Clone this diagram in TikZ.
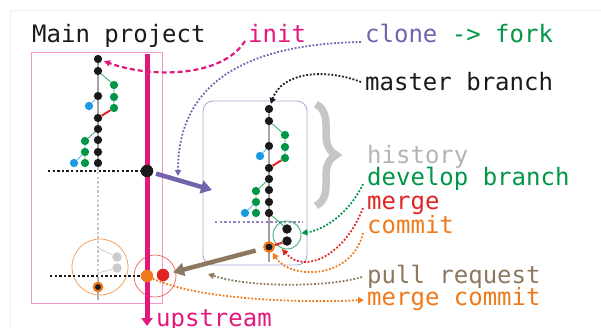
\documentclass[tikz,border=0pt]{standalone}
\usepackage{fontspec}
\newfontfamily\monof{DejaVu Sans Mono}
\usetikzlibrary{arrows.meta,decorations.pathreplacing}
\definecolor{magC}{RGB}{226,24,124}
\definecolor{pinkC}{RGB}{240,150,200}
\definecolor{purpleC}{RGB}{112,100,172}
\definecolor{greenC}{RGB}{0,150,70}
\definecolor{blueC}{RGB}{25,155,225}
\definecolor{redC}{RGB}{226,35,35}
\definecolor{orangeC}{RGB}{238,122,28}
\definecolor{brownC}{RGB}{140,120,96}
\definecolor{grayT}{RGB}{180,180,180}
\definecolor{braceC}{RGB}{198,198,198}
\definecolor{lavC}{RGB}{172,166,214}
\definecolor{blkC}{RGB}{26,26,26}
\newcommand\histtree{%
  \draw[gray!70, line width=1.2pt] (0,0) -- (0,104);
  \foreach \n/\y in {m1/0,m2/12,m3/37,m4/59,m5/70,m6/81,m7/93,m8/104}
    \node[bdot] (\n) at (0,\y) {};
  \node[gdot] (g1) at (16,26) {};
  \node[gdot] (g2) at (16,38) {};
  \node[gdot] (g3) at (16,49) {};
  \node[udot] (b1) at (-9,47) {};
  \node[gdot] (h1) at (-13,82) {};
  \node[gdot] (h2) at (-13,93) {};
  \node[gdot] (h3) at (-13,104) {};
  \node[udot] (b2) at (-24,104) {};
  \draw[greenC!80, line width=0.8pt] (m2) -- (g1) -- (g2) -- (g3);
  \draw[redC, line width=2pt] (g3) -- (m4);
  \draw[blueC!70, line width=0.8pt] (m3) -- (b1);
  \draw[greenC!80, line width=0.8pt] (m5) -- (h1) -- (h2) -- (h3);
  \draw[blueC!70, line width=0.8pt] (h2) -- (b2);
}
\begin{document}
\begin{tikzpicture}[x=1pt,y=-1pt,
  lbl/.style={font=\monof\fontsize{24}{24}\selectfont, anchor=base west, inner sep=0pt, text=blkC},
  bdot/.style={circle, inner sep=0pt, minimum size=8.3pt, fill=blkC},
  gdot/.style={circle, inner sep=0pt, minimum size=8.3pt, fill=greenC},
  udot/.style={circle, inner sep=0pt, minimum size=8.3pt, fill=blueC},
  ldot/.style={circle, inner sep=0pt, minimum size=9.5pt, fill=gray!40},
  bigdot/.style={circle, inner sep=0pt, minimum size=12.5pt, fill=#1},
  ringdot/.style={circle, inner sep=0pt, minimum size=#1, fill=blkC, draw=orangeC, line width=2.2pt},
  dotline/.style={line width=1.8pt, dash pattern=on 1.8pt off 1.8pt, #1},
  hline/.style={line width=2.4pt, dash pattern=on 2.4pt off 2.2pt, #1},
  tip/.style={-{Triangle[length=6pt,width=6pt]}},
  fat/.style={line width=4.5pt, -{Triangle[length=11pt,width=13pt]}, #1}
]
\useasboundingbox (0,0) rectangle (601,327);
% faint frame
\draw[gray!12, line width=0.8pt] (10,330) -- (10,10) -- (610,10);
% boxes
\node[draw=pinkC, line width=1pt, minimum width=131pt, minimum height=251pt, inner sep=0pt] (mainbox) at (96.5,177.5) {};
\node[draw=lavC, line width=0.9pt, rounded corners=10pt, minimum width=104pt, minimum height=164pt, inner sep=0pt] (forkbox) at (255,183) {};
\node[circle, draw=orangeC!70, line width=0.8pt, minimum size=56pt, inner sep=0pt] (ocirc) at (100,267) {};
\node[circle, draw=redC!65, line width=0.8pt, minimum size=42pt, inner sep=0pt] (rcirc) at (155,276) {};
% upstream
\coordinate (uptop) at (147,54);
\coordinate (upbot) at (147,326);
\draw[magC, line width=5pt, -{Triangle[length=8pt,width=11pt]}] (uptop) -- (upbot);
% brace
\draw[braceC, line width=7.5pt, decorate, decoration={brace, amplitude=20pt}] (316,104) -- (316,206);
% trees
\begin{scope}[shift={(98,59)}, name prefix=L-]
  \histtree
\end{scope}
\begin{scope}[shift={(269,109)}, name prefix=R-]
  \histtree
\end{scope}
% left lower part
\coordinate (lhs1) at (48,171);
\coordinate (lhs2) at (50,276);
\coordinate (lgbot) at (98,275);
\draw[hline=gray!45] (L-m8) -- (lgbot);
\node[bigdot=blkC] (bigdot) at (147,171) {};
\draw[hline=blkC] (lhs1) -- (bigdot);
\coordinate (lgs1) at (98,248);
\coordinate (lgs2) at (98,273);
\coordinate (lgtop) at (98,277);
\coordinate (lgend) at (98,300);
\node[ldot] (lg1) at (117,257) {};
\node[ldot] (lg2) at (117,268) {};
\draw[gray!35, line width=0.9pt] (lgs1) -- (lg1);
\draw[gray!35, line width=0.9pt] (lgs2) -- (lg2);
\draw[gray!60, line width=1.2pt] (lgtop) -- (lgend);
\node[bigdot=orangeC] (onode) at (147,276) {};
\node[bigdot=redC] (rnode) at (163,275) {};
\draw[hline=blkC] (lhs2) -- (onode);
\node[ringdot=8.5pt] (lring) at (98,287) {};
% right lower part
\coordinate (rdl1) at (215,222);
\coordinate (rdl2) at (303,222);
\draw[hline=purpleC!80] (rdl1) -- (rdl2);
\coordinate (rbot) at (269,262);
\draw[gray!75, line width=1.2pt] (R-m8) -- (rbot);
\node[circle, draw=greenC!75, line width=0.9pt, minimum size=28pt, inner sep=0pt] (gcirc) at (287,235) {};
\node[circle, inner sep=0pt, minimum size=9.5pt, fill=blkC] (k1) at (287,229) {};
\node[circle, inner sep=0pt, minimum size=9.5pt, fill=blkC] (k2) at (287,241) {};
\node[ringdot=9.5pt] (rring) at (269,247) {};
\draw[greenC!80, line width=0.8pt] (R-m8) -- (k1);
\draw[redC, line width=2pt] (k2) -- (rring);
% thick arrows
\coordinate (forkin) at (212,190);
\draw[fat=purpleC, shorten <=3pt] (bigdot) -- (forkin);
\draw[fat=brownC, shorten <=8pt, shorten >=4pt] (rring) -- (rnode);
% labels
\node[lbl] (mainproj) at (32,42) {Main project};
\node[lbl, text=magC] (init) at (248,42) {init};
\node[lbl] (clone) at (365,42) {\textcolor{purpleC}{clone} \textcolor{greenC}{-> fork}};
\node[lbl] (master) at (365,90) {master branch};
\node[lbl, text=grayT] (history) at (367,163) {history};
\node[lbl, text=greenC] (develop) at (367,185) {develop branch};
\node[lbl, text=redC] (merge) at (367,209) {merge};
\node[lbl, text=orangeC] (commit) at (367,233) {commit};
\node[lbl, text=brownC] (pullreq) at (367,283) {pull request};
\node[lbl, text=orangeC] (mergecommit) at (367,305) {merge commit};
\node[lbl, text=magC] (upstream) at (156,326) {upstream};
% annotation connectors
\coordinate (s-init) at (245,41);
\coordinate (s-clone) at (361,42);
\coordinate (e-clone) at (178,176);
\coordinate (s-master) at (361,82);
\coordinate (s-dev) at (363,184);
\coordinate (s-merge) at (363,208);
\coordinate (e-merge) at (282,249);
\coordinate (s-commit) at (363,233);
\coordinate (s-pull) at (362,277);
\coordinate (e-pull) at (208,274);
\coordinate (e-mc) at (364,300);
\draw[magC, line width=2.2pt, dash pattern=on 5pt off 3pt, tip, shorten >=2pt] (s-init) .. controls (222,78) and (150,78) .. (L-m1);
\draw[dotline=purpleC, tip] (s-clone) .. controls (250,44) and (178,80) .. (e-clone);
\draw[dotline=blkC, tip, shorten >=1pt] (s-master) .. controls (325,68) and (282,72) .. (R-m1);
\draw[dotline=greenC, tip] (s-dev) .. controls (350,212) and (325,230) .. (gcirc);
\draw[dotline=redC, tip] (s-merge) .. controls (345,255) and (305,275) .. (e-merge);
\draw[dotline=orangeC, tip, shorten >=1pt] (s-commit) .. controls (352,280) and (290,280) .. (rring);
\draw[dotline=brownC, tip] (s-pull) .. controls (330,287) and (250,288) .. (e-pull);
\draw[dotline=orangeC, tip] (onode) .. controls (200,300) and (300,303) .. (e-mc);
\end{tikzpicture}
\end{document}
